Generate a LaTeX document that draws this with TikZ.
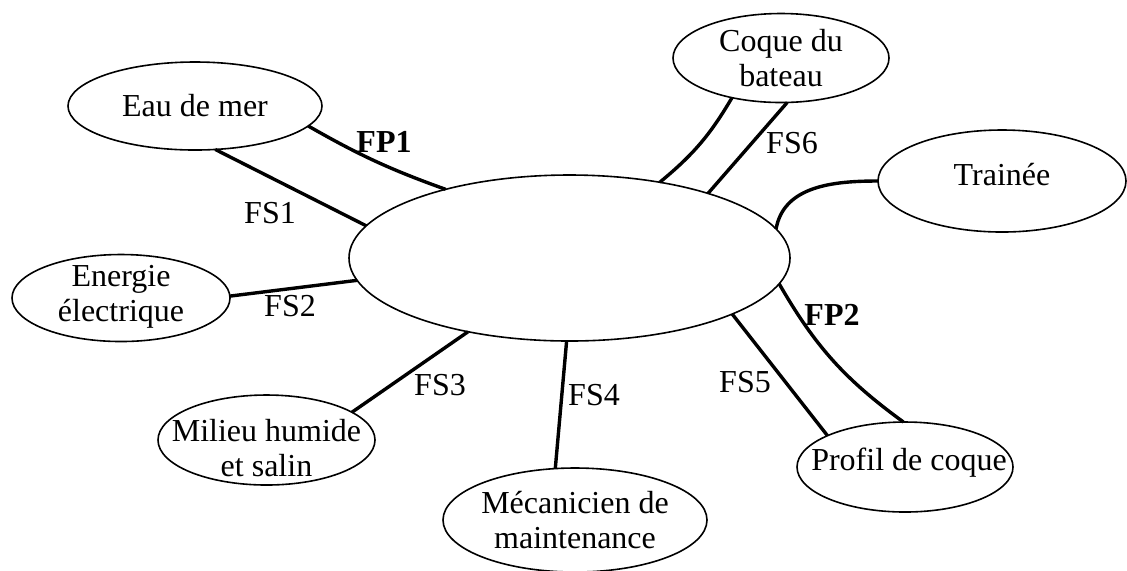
\documentclass[tikz,border=0pt]{standalone}
\usepackage{fontspec}
\setmainfont{Liberation Serif}
\usetikzlibrary{shapes.geometric}
\tikzset{
    every node/.style={font=\fontsize{16}{17.5}\selectfont},
    bloc/.style={ellipse,draw,line width=0.8pt,inner sep=0pt,outer sep=0pt},
    nomtxt/.style={align=center},
    lien/.style={line width=1.7pt},
    fp/.style={font=\fontsize{16}{17.5}\selectfont\bfseries}
}

\begin{document}
\begin{tikzpicture}[x=0.5pt,y=-0.5pt]
\useasboundingbox (0,0) rectangle (1127,570);
% systeme et milieu exterieur
\node[bloc,minimum width=220.5pt,minimum height=83pt] (sys) at (569.5,258) {};
\node[bloc,minimum width=127pt,minimum height=44pt,label={[nomtxt]center:Eau de mer}] (eau) at (195,106) {};
\node[bloc,minimum width=109pt,minimum height=43.5pt,label={[nomtxt,yshift=0.5pt]center:Energie\\électrique}] (ener) at (121,298) {};
\node[bloc,minimum width=108.5pt,minimum height=45pt,label={[nomtxt,yshift=-4pt]center:Milieu humide\\et salin}] (mil) at (266.5,440) {};
\node[bloc,minimum width=132pt,minimum height=52pt,label={[nomtxt]center:Mécanicien de\\maintenance}] (meca) at (575,520) {};
\node[bloc,minimum width=108pt,minimum height=45pt,label={[nomtxt,xshift=2pt,yshift=2pt]center:Profil de coque}] (prof) at (905,467) {};
\node[bloc,minimum width=108pt,minimum height=44.5pt,label={[nomtxt]center:Coque du\\bateau}] (coq) at (781,58) {};
\node[bloc,minimum width=124pt,minimum height=51pt,label={[nomtxt,yshift=3pt]center:Trainée}] (trn) at (1002,181) {};
% fonctions
\draw[lien] (eau.350) to[bend right=5] (sys.151);
\draw[lien] (eau.295) -- (sys.171);
\draw[lien] (ener.1) -- (sys.186);
\draw[lien] (mil.18) -- (sys.216);
\draw[lien] (meca.111) -- (sys.268);
\draw[lien] (sys.341) -- (prof.158);
\draw[lien] (sys.353) to[bend right=12] (prof.92);
\draw[lien] (trn.180) to[out=180,in=80] (sys.8);
\draw[lien] (coq.278) -- (sys.25);
\draw[lien] (coq.219) to[bend left=10] (sys.40);
\node[fp] (fp1) at (384,142) {FP1};
\node[fp] (fp2) at (832,315) {FP2};
\foreach \i/\x/\y in {1/270/213,2/290/306,3/440/385,4/594/395,5/745/382,6/792/143}
    \node (fs\i) at (\x,\y) {FS\i};
\end{tikzpicture}
\end{document}
